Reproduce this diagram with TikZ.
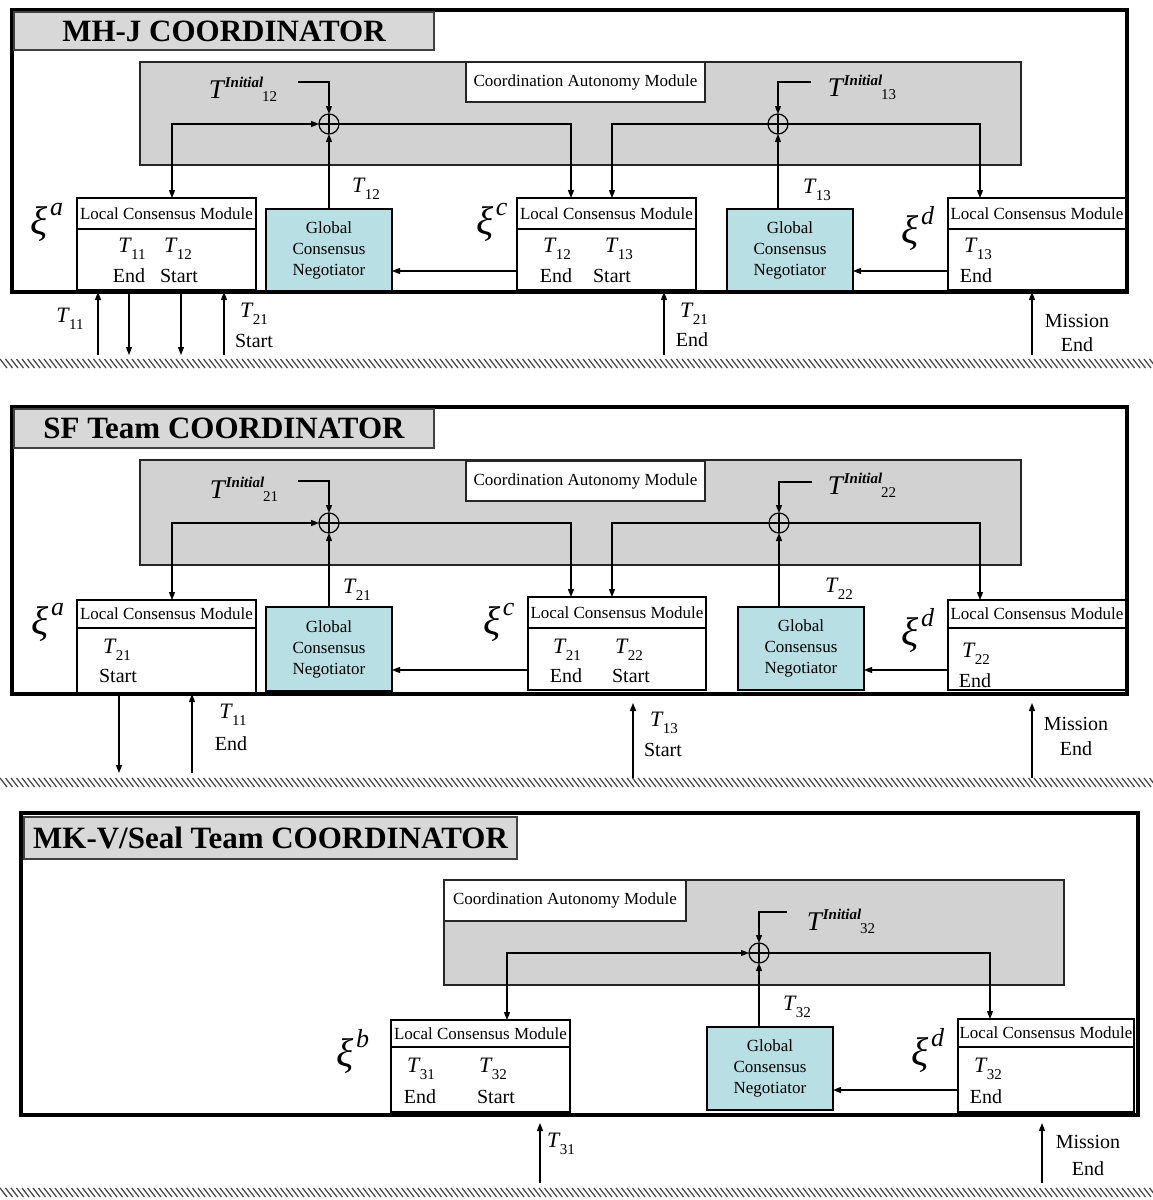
\documentclass[tikz,border=0pt]{standalone}
\usepackage{fontspec}
\setmainfont{Liberation Serif}
\usetikzlibrary{arrows.meta}
\definecolor{titlegray}{RGB}{216,216,216}
\definecolor{camgray}{RGB}{210,210,210}
\definecolor{gcncyan}{RGB}{184,224,228}
\newcommand\hatchrow[1]{\foreach \hx in {0,5.5,...,1160}{\draw[hatch] (\hx,#1) -- ++(7,9);}}
\newcommand\Tsub[1]{{\fontsize{22}{22}\selectfont\itshape T}\kern0.5pt\raisebox{-7pt}{\fontsize{15}{15}\selectfont #1}}
\newcommand\Tini[1]{{\fontsize{27}{27}\selectfont\itshape T}\kern1pt\raisebox{11pt}{\fontsize{15}{15}\selectfont\bfseries\itshape Initial}\kern-1pt\raisebox{-3pt}{\fontsize{15}{15}\selectfont #1}}
\newcommand\XiLbl[1]{{\fontsize{40}{40}\selectfont\itshape ξ}\kern2pt\raisebox{19pt}{\fontsize{26}{26}\selectfont\itshape #1}}
\begin{document}
\begin{tikzpicture}[x=1pt,y=-1pt,
  frame/.style={draw=black,line width=4pt,inner sep=0,outer sep=0,anchor=north west},
  titlebox/.style={draw=black!75,fill=titlegray,line width=1.2pt,inner sep=0,outer sep=0,anchor=north west,font=\fontsize{31}{33}\selectfont\bfseries},
  cam/.style={draw=black!85,fill=camgray,line width=1.2pt,inner sep=0,outer sep=0,anchor=north west},
  camlbl/.style={draw=black!85,fill=white,line width=1.2pt,inner sep=0,outer sep=0,anchor=north west,minimum width=239,minimum height=40,font=\fontsize{17}{19}\selectfont},
  lcm/.style={draw=black,fill=white,line width=1.2pt,inner sep=0,outer sep=0,anchor=north west,minimum height=92},
  lcmh/.style={draw=black,line width=1.2pt,inner sep=0,outer sep=0,anchor=north west,minimum height=31,font=\fontsize{17}{19}\selectfont},
  gcn/.style={draw=black,fill=gcncyan,line width=1.2pt,inner sep=0,outer sep=0,anchor=north west,minimum width=126,minimum height=82,align=center,font=\fontsize{17}{21}\selectfont},
  sumc/.style={circle,draw=black,line width=1.2pt,minimum size=20,inner sep=0,outer sep=0},
  conn/.style={line width=1.2pt,draw=black},
  tt/.style={inner sep=0,yshift=-3pt},
  ti/.style={inner sep=0,yshift=-1pt},
  tx/.style={inner sep=0,font=\fontsize{20}{22}\selectfont},
  xi/.style={inner sep=0},
  hatch/.style={draw=black!70,line width=1.3pt},
  >={Triangle[length=8pt,width=6pt]}
]
\fill[white] (0,0) rectangle (1153,1200);
\useasboundingbox (0,0) rectangle (1153,1200);

%%%%%%%%%%%%%%%% SECTION 1 %%%%%%%%%%%%%%%%
\node[frame,minimum width=1115,minimum height=282] (s1f) at (12,10) {};
\node[titlebox,minimum width=420,minimum height=38] (s1t) at (14,12) {MH-J COORDINATOR};
\node[cam,minimum width=881,minimum height=103] (s1cam) at (140,62) {};
\node[camlbl] (s1caml) at (466,62) {Coordination Autonomy Module};
\node[sumc] (s1c1) at (329,124) {};
\node[sumc] (s1c2) at (778,124) {};
\node[ti] (s1ti1) at (243,88) {\Tini{12}};
\node[ti] (s1ti2) at (862,86) {\Tini{13}};
\node[lcm,minimum width=179] (s1la) at (77,198) {};
\node[lcmh,minimum width=179] (s1lah) at (77,198) {Local Consensus Module};
\node[lcm,minimum width=179] (s1lc) at (517,198) {};
\node[lcmh,minimum width=179] (s1lch) at (517,198) {Local Consensus Module};
\node[lcm,minimum width=178] (s1ld) at (948,198) {};
\node[lcmh,minimum width=178] (s1ldh) at (948,198) {Local Consensus Module};
\node[gcn] (s1g1) at (266,209) {Global\\Consensus\\Negotiator};
\node[gcn] (s1g2) at (727,209) {Global\\Consensus\\Negotiator};
\node[tt] (s1l1) at (366,186) {\Tsub{12}};
\node[tt] (s1l2) at (817,187) {\Tsub{13}};
\node[xi] (s1xa) at (47,222) {\XiLbl{a}};
\node[xi] (s1xc) at (492,222) {\XiLbl{c}};
\node[xi] (s1xd) at (918,229) {\XiLbl{d}};
% contents
\node[tt] (s1a1) at (132,246) {\Tsub{11}};
\node[tt] (s1a2) at (178,246) {\Tsub{12}};
\node[tx] (s1a3) at (129,276) {End};
\node[tx] (s1a4) at (179,276) {Start};
\node[tt] (s1c1t) at (557,246) {\Tsub{12}};
\node[tt] (s1c2t) at (619,246) {\Tsub{13}};
\node[tx] (s1c3t) at (556,276) {End};
\node[tx] (s1c4t) at (612,276) {Start};
\node[tt] (s1d1t) at (978,246) {\Tsub{13}};
\node[tx] (s1d2t) at (976,276) {End};
% coordinates
\coordinate (s1p1) at (298,82);
\coordinate (s1p2) at (811,82);
\coordinate (s1qa) at (172,198);
\coordinate (s1qc1) at (571,198);
\coordinate (s1qc2) at (612,198);
\coordinate (s1qd) at (980,198);
\coordinate (s1rc) at (517,271);
\coordinate (s1rd) at (948,271);
% connectors
\draw[conn,->] (s1p1) -| (s1c1.north);
\draw[conn,->] (s1p2) -| (s1c2.north);
\draw[conn,->] (s1c1.south |- s1g1.north) -- (s1c1.south);
\draw[conn,->] (s1c2.south |- s1g2.north) -- (s1c2.south);
\draw[conn,<->] (s1c1.west) -| (s1qa);
\draw[conn,->] (s1c1.east) -| (s1qc1);
\draw[conn,->] (s1c2.west) -| (s1qc2);
\draw[conn,->] (s1c2.east) -| (s1qd);
\draw[conn,->] (s1rc) -- (s1rc -| s1g1.east);
\draw[conn,->] (s1rd) -- (s1rd -| s1g2.east);
\draw[conn] (s1c1.north) -- (s1c1.south) (s1c1.west) -- (s1c1.east);
\draw[conn] (s1c2.north) -- (s1c2.south) (s1c2.west) -- (s1c2.east);
% below
\coordinate (s1u1) at (98,355);
\coordinate (s1d1) at (129,355);
\coordinate (s1d2) at (181,355);
\coordinate (s1u2) at (224,355);
\coordinate (s1u3) at (664,355);
\coordinate (s1u4) at (1032,355);
\draw[conn,->] (s1u1) -- (s1u1 |- s1f.south);
\draw[conn,->] (s1f.south -| s1d1) -- (s1d1);
\draw[conn,->] (s1f.south -| s1d2) -- (s1d2);
\draw[conn,->] (s1u2) -- (s1u2 |- s1f.south);
\draw[conn,->] (s1u3) -- (s1u3 |- s1f.south);
\draw[conn,->] (s1u4) -- (s1u4 |- s1f.south);
\node[tt] (s1b1) at (70,316) {\Tsub{11}};
\node[tt] (s1b2) at (254,311) {\Tsub{21}};
\node[tx] (s1b3) at (254,341) {Start};
\node[tt] (s1b4) at (694,311) {\Tsub{21}};
\node[tx] (s1b5) at (692,340) {End};
\node[tx] (s1b6) at (1077,321) {Mission};
\node[tx] (s1b7) at (1077,345) {End};
\hatchrow{359}

%%%%%%%%%%%%%%%% SECTION 2 %%%%%%%%%%%%%%%%
\node[frame,minimum width=1115,minimum height=287] (s2f) at (12,407) {};
\node[titlebox,minimum width=420,minimum height=39] (s2t) at (14,409) {SF Team COORDINATOR};
\node[cam,minimum width=881,minimum height=105] (s2cam) at (140,460) {};
\node[camlbl] (s2caml) at (466,461) {Coordination Autonomy Module};
\node[sumc] (s2c1) at (329,523) {};
\node[sumc] (s2c2) at (779,523) {};
\node[ti] (s2ti1) at (244,488) {\Tini{21}};
\node[ti] (s2ti2) at (862,484) {\Tini{22}};
\node[lcm,minimum width=179,minimum height=93] (s2la) at (77,600) {};
\node[lcmh,minimum width=179,minimum height=28] (s2lah) at (77,600) {Local Consensus Module};
\node[lcm,minimum width=178,minimum height=93] (s2lc) at (528,597) {};
\node[lcmh,minimum width=178] (s2lch) at (528,597) {Local Consensus Module};
\node[lcm,minimum width=178,minimum height=90] (s2ld) at (948,600) {};
\node[lcmh,minimum width=178,minimum height=28] (s2ldh) at (948,600) {Local Consensus Module};
\node[gcn,minimum height=84] (s2g1) at (266,607) {Global\\Consensus\\Negotiator};
\node[gcn,minimum height=83] (s2g2) at (738,607) {Global\\Consensus\\Negotiator};
\node[tt] (s2l1) at (357,587) {\Tsub{21}};
\node[tt] (s2l2) at (839,586) {\Tsub{22}};
\node[xi] (s2xa) at (48,622) {\XiLbl{a}};
\node[xi] (s2xc) at (499,622) {\XiLbl{c}};
\node[xi] (s2xd) at (918,630) {\XiLbl{d}};
% contents
\node[tt] (s2a1) at (117,647) {\Tsub{21}};
\node[tx] (s2a2) at (118,676) {Start};
\node[tt] (s2c1t) at (567,647) {\Tsub{21}};
\node[tt] (s2c2t) at (629,647) {\Tsub{22}};
\node[tx] (s2c3t) at (566,676) {End};
\node[tx] (s2c4t) at (631,676) {Start};
\node[tt] (s2d1t) at (976,651) {\Tsub{22}};
\node[tx] (s2d2t) at (975,681) {End};
% coordinates
\coordinate (s2p1) at (298,481);
\coordinate (s2p2) at (812,482);
\coordinate (s2qa) at (172,600);
\coordinate (s2qc1) at (571,597);
\coordinate (s2qc2) at (612,597);
\coordinate (s2qd) at (980,600);
\coordinate (s2rc) at (528,670);
\coordinate (s2rd) at (948,670);
% connectors
\draw[conn,->] (s2p1) -| (s2c1.north);
\draw[conn,->] (s2p2) -| (s2c2.north);
\draw[conn,->] (s2c1.south |- s2g1.north) -- (s2c1.south);
\draw[conn,->] (s2c2.south |- s2g2.north) -- (s2c2.south);
\draw[conn,<->] (s2c1.west) -| (s2qa);
\draw[conn,->] (s2c1.east) -| (s2qc1);
\draw[conn,->] (s2c2.west) -| (s2qc2);
\draw[conn,->] (s2c2.east) -| (s2qd);
\draw[conn,->] (s2rc) -- (s2rc -| s2g1.east);
\draw[conn,->] (s2rd) -- (s2rd -| s2g2.east);
\draw[conn] (s2c1.north) -- (s2c1.south) (s2c1.west) -- (s2c1.east);
\draw[conn] (s2c2.north) -- (s2c2.south) (s2c2.west) -- (s2c2.east);
% below
\coordinate (s2d1) at (119,773);
\coordinate (s2u1) at (192,773);
\coordinate (s2u2) at (633,778);
\coordinate (s2u2t) at (633,703);
\coordinate (s2u3) at (1032,778);
\coordinate (s2u3t) at (1032,703);
\draw[conn,->] (s2f.south -| s2d1) -- (s2d1);
\draw[conn,->] (s2u1) -- (s2u1 |- s2f.south);
\draw[conn,->] (s2u2) -- (s2u2t);
\draw[conn,->] (s2u3) -- (s2u3t);
\node[tt] (s2b1) at (233,712) {\Tsub{11}};
\node[tx] (s2b2) at (231,744) {End};
\node[tt] (s2b3) at (664,720) {\Tsub{13}};
\node[tx] (s2b4) at (663,750) {Start};
\node[tx] (s2b5) at (1076,724) {Mission};
\node[tx] (s2b6) at (1076,749) {End};
\hatchrow{778}

%%%%%%%%%%%%%%%% SECTION 3 %%%%%%%%%%%%%%%%
\node[frame,minimum width=1117,minimum height=302] (s3f) at (21,813) {};
\node[titlebox,minimum width=493,minimum height=42] (s3t) at (24,817) {MK-V/Seal Team COORDINATOR};
\node[cam,minimum width=620,minimum height=105] (s3cam) at (444,880) {};
\node[camlbl,minimum width=242,minimum height=41] (s3caml) at (444,880) {Coordination Autonomy Module};
\node[sumc] (s3c1) at (759,953) {};
\node[ti] (s3ti1) at (841,920) {\Tini{32}};
\node[lcm,minimum width=179] (s3lb) at (391,1020) {};
\node[lcmh,minimum width=179,minimum height=27] (s3lbh) at (391,1020) {Local Consensus Module};
\node[lcm,minimum width=176,minimum height=93] (s3ld) at (958,1019) {};
\node[lcmh,minimum width=176,minimum height=28] (s3ldh) at (958,1019) {Local Consensus Module};
\node[gcn,minimum height=83] (s3g1) at (707,1027) {Global\\Consensus\\Negotiator};
\node[tt] (s3l1) at (797,1004) {\Tsub{32}};
\node[xi] (s3xb) at (353,1051) {\XiLbl{b}};
\node[xi] (s3xd) at (928,1050) {\XiLbl{d}};
% contents
\node[tt] (s3b1t) at (421,1066) {\Tsub{31}};
\node[tt] (s3b2t) at (493,1066) {\Tsub{32}};
\node[tx] (s3b3t) at (420,1097) {End};
\node[tx] (s3b4t) at (496,1097) {Start};
\node[tt] (s3d1t) at (988,1066) {\Tsub{32}};
\node[tx] (s3d2t) at (986,1097) {End};
% coordinates
\coordinate (s3p1) at (787,912);
\coordinate (s3qb) at (507,1020);
\coordinate (s3qd) at (990,1019);
\coordinate (s3rd) at (958,1090);
% connectors
\draw[conn,->] (s3p1) -| (s3c1.north);
\draw[conn,->] (s3c1.south |- s3g1.north) -- (s3c1.south);
\draw[conn,<->] (s3c1.west) -| (s3qb);
\draw[conn,->] (s3c1.east) -| (s3qd);
\draw[conn,->] (s3rd) -- (s3rd -| s3g1.east);
\draw[conn] (s3c1.north) -- (s3c1.south) (s3c1.west) -- (s3c1.east);
% below
\coordinate (s3u1) at (540,1183);
\coordinate (s3u1t) at (540,1123);
\coordinate (s3u2) at (1042,1183);
\coordinate (s3u2t) at (1042,1123);
\draw[conn,->] (s3u1) -- (s3u1t);
\draw[conn,->] (s3u2) -- (s3u2t);
\node[tt] (s3b1) at (561,1141) {\Tsub{31}};
\node[tx] (s3b2) at (1088,1142) {Mission};
\node[tx] (s3b3) at (1088,1169) {End};
\hatchrow{1188}
\end{tikzpicture}
\end{document}
